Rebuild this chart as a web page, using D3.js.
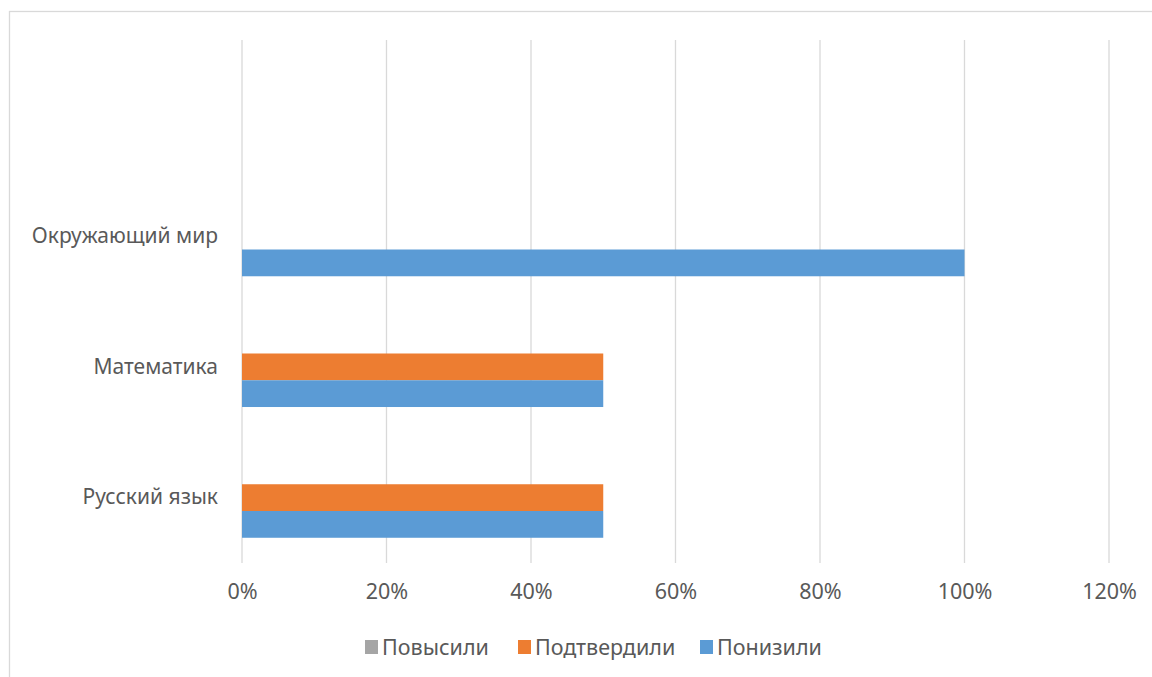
<!DOCTYPE html>
<html>
<head>
<meta charset="utf-8">
<script src="https://cdn.jsdelivr.net/npm/d3@7"></script>
<style>
  body { margin: 0; background: #fff; }
  svg text { font-family: "Noto Sans", "Open Sans", sans-serif; fill: #595959; }
</style>
</head>
<body>
<div id="chart"></div>
<script>
// categories top to bottom (the top one is blank in the source)
const categories = ["", "Окружающий мир", "Математика", "Русский язык"];
const seriesNames = ["Повысили", "Подтвердили", "Понизили"];
const seriesColors = ["#A5A5A5", "#ED7D31", "#5B9BD5"];
// values in %, per category, same order as categories
const povysili    = [0, 0, 0, 0];
const podtverdili = [0, 0, 50, 50];
const ponizili    = [0, 100, 50, 50];
const xTicks = [0, 20, 40, 60, 80, 100, 120];

const width = 1152, height = 677;
const margin = {top: 40, right: 43, bottom: 114, left: 242};

const svg = d3.select("#chart").append("svg")
  .attr("width", width)
  .attr("height", height);

// chart frame (cropped at right and bottom in the source)
svg.append("rect")
  .attr("x", 9.5).attr("y", 11.5)
  .attr("width", 1300).attr("height", 800)
  .attr("fill", "none")
  .attr("stroke", "#d9d9d9")
  .attr("stroke-width", 1.3);

const x = d3.scaleLinear([0, 120], [margin.left, width - margin.right]);
const y = d3.scaleBand(categories, [margin.top, height - margin.bottom])
  .paddingInner(0.386).paddingOuter(0.193);
const ySub = d3.scaleBand(seriesNames, [0, y.bandwidth()]);

// gridlines
svg.append("g")
  .selectAll("line")
  .data(xTicks)
  .join("line")
    .attr("x1", d => x(d)).attr("x2", d => x(d))
    .attr("y1", margin.top).attr("y2", height - margin.bottom)
    .attr("stroke", "#d9d9d9")
    .attr("stroke-width", 1.3);

// bars
const table = categories.map((c, i) => ({
  cat: c,
  vals: [povysili[i], podtverdili[i], ponizili[i]]
}));

svg.append("g")
  .selectAll("g")
  .data(table)
  .join("g")
    .attr("transform", d => `translate(0,${y(d.cat)})`)
  .selectAll("rect")
  .data(d => d.vals.map((v, j) => ({name: seriesNames[j], v: v, color: seriesColors[j]})))
  .join("rect")
    .attr("x", x(0))
    .attr("y", d => ySub(d.name))
    .attr("width", d => x(d.v) - x(0))
    .attr("height", ySub.bandwidth())
    .attr("fill", d => d.color);

// x axis labels
const xAxis = svg.append("g")
  .attr("transform", `translate(0,${height - margin.bottom})`)
  .call(d3.axisBottom(x).tickValues(xTicks).tickFormat(d => d + "%").tickSize(0).tickPadding(21));
xAxis.select(".domain").remove();
xAxis.selectAll("text")
  .attr("font-family", null)
  .style("font-size", "21.5px")
  .attr("fill", "#595959");

// category labels
const yAxis = svg.append("g")
  .attr("transform", `translate(${margin.left},0)`)
  .call(d3.axisLeft(y).tickSize(0).tickPadding(24));
yAxis.select(".domain").remove();
yAxis.selectAll("text")
  .attr("font-family", null)
  .style("font-size", "21px")
  .attr("fill", "#595959");

// legend
const legendX = [365, 518, 700];
const legend = svg.append("g").attr("transform", "translate(0,647)");
const item = legend.selectAll("g")
  .data(seriesNames)
  .join("g")
    .attr("transform", (d, i) => `translate(${legendX[i]},0)`);
item.append("rect")
  .attr("x", 0).attr("y", -7)
  .attr("width", 13).attr("height", 14)
  .attr("fill", (d, i) => seriesColors[i]);
item.append("text")
  .attr("x", 17).attr("dy", "0.35em")
  .style("font-size", "21.5px")
  .text(d => d);
</script>
</body>
</html>
